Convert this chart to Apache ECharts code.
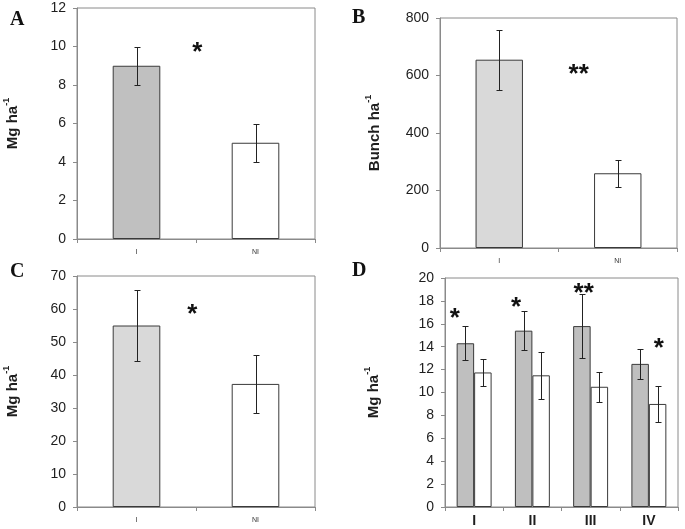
<!DOCTYPE html>
<html><head><meta charset="utf-8">
<script src="https://cdn.jsdelivr.net/npm/echarts@6/dist/echarts.min.js"></script>
<style>html,body{margin:0;padding:0;background:#fff}#c{width:685px;height:529px}</style>
</head><body><div id="c"></div>
<script>
// ---------- data ----------
const catsABC = ['I', 'NI'];
const aValues = [9, 5];
const aErrors = [1, 1];
const bValues = [655, 260];
const bErrors = [105, 47];
const cValues = [55, 37.3];
const cErrors = [10.8, 8.7];
const dCats = ['I', 'II', 'III', 'IV'];
const dIrrigated = [14.3, 15.4, 15.8, 12.5];
const dIrrigatedErr = [1.5, 1.7, 2.8, 1.3];
const dNonIrrigated = [11.75, 11.5, 10.5, 9.0];
const dNonIrrigatedErr = [1.2, 2.05, 1.3, 1.55];
// significance marks: label, category index, value level
const sigA = [['*', 0, 10]];
const sigB = [['**', 0, 623]];
const sigC = [['*', 0, 60]];
const sigD = [['*', 0, 17.0], ['*', 1, 17.9], ['**', 2, 19.1], ['*', 3, 14.3]];
// horizontal shift of marks, as a fraction of the category band (layout)
const sigShiftA = [0.51];
const sigShiftB = [0.67];
const sigShiftC = [0.47];
const sigShiftD = [-0.33, -0.28, -0.12, 0.17];

// ---------- styles ----------
const AX = '#8a8a8a';
const TXT = '#1e1e1e';
const FONT = 'Liberation Sans, Arial, sans-serif';

function grid(left, top, width, height) {
  return {left, top, width, height, show: true, borderColor: AX, borderWidth: 1, backgroundColor: 'transparent'};
}
function xAxis(gi, cats, style) {
  return {
    type: 'category', gridIndex: gi, data: cats,
    axisLine: {lineStyle: {color: AX, width: 1}},
    axisTick: {show: true, length: 4, lineStyle: {color: AX}},
    axisLabel: Object.assign({color: '#333', fontFamily: FONT}, style)
  };
}
function yAxis(gi, max, interval, nameMain, nameGap) {
  return {
    type: 'value', gridIndex: gi, min: 0, max, interval,
    name: '{a|' + nameMain + '}{s|-1}', nameLocation: 'middle', nameRotate: 90, nameGap,
    nameTextStyle: {
      rich: {
        a: {fontSize: 15, fontWeight: 'bold', fontFamily: FONT, color: TXT, lineHeight: 18, verticalAlign: 'bottom'},
        s: {fontSize: 9, fontWeight: 'bold', fontFamily: FONT, color: TXT, lineHeight: 18, verticalAlign: 'top', padding: [0, 0, 0, 0]}
      }
    },
    splitLine: {show: false},
    axisLine: {show: true, lineStyle: {color: AX, width: 1}},
    axisTick: {show: true, length: 4, lineStyle: {color: AX}},
    axisLabel: {color: TXT, fontSize: 14, fontFamily: FONT, margin: 11}
  };
}
function barSeries(gi, values, color, extra) {
  return Object.assign({
    type: 'bar', xAxisIndex: gi, yAxisIndex: gi, data: values,
    itemStyle: {color, borderColor: '#3a3a3a', borderWidth: 1},
    barGap: '0%', barCategoryGap: '60%', animation: false
  }, extra || {});
}
function errSeries(gi, values, errs, shift) {
  return {
    type: 'custom', xAxisIndex: gi, yAxisIndex: gi, z: 10, animation: false, silent: true,
    data: values.map((v, i) => [i, v - errs[i], v + errs[i]]),
    renderItem(params, api) {
      const lo = api.coord([api.value(0), api.value(1)]);
      const hi = api.coord([api.value(0), api.value(2)]);
      const band = api.size([1, 0])[0];
      const x = Math.round(lo[0] + shift * band) + 0.5;
      const y1 = Math.round(lo[1]) + 0.5, y2 = Math.round(hi[1]) + 0.5;
      const st = {stroke: '#222', lineWidth: 1};
      return {type: 'group', children: [
        {type: 'line', shape: {x1: x, y1: y1, x2: x, y2: y2}, style: st},
        {type: 'line', shape: {x1: x - 3, y1: y1, x2: x + 3, y2: y1}, style: st},
        {type: 'line', shape: {x1: x - 3, y1: y2, x2: x + 3, y2: y2}, style: st}
      ]};
    }
  };
}
function sigSeries(gi, marks, shifts) {
  return {
    type: 'custom', xAxisIndex: gi, yAxisIndex: gi, z: 11, animation: false, silent: true,
    data: marks.map((m, i) => [m[1], m[2], i]),
    renderItem(params, api) {
      const p = api.coord([api.value(0), api.value(1)]);
      const band = api.size([1, 0])[0];
      const i = api.value(2);
      return {type: 'text', style: {
        text: marks[i][0], x: p[0] + shifts[i] * band, y: p[1] + 6,
        align: 'center', verticalAlign: 'middle',
        font: 'bold 26px ' + FONT, fill: '#111', letterSpacing: 0
      }};
    }
  };
}
function letter(text, left, top) {
  return {type: 'text', left, top, style: {text, font: 'bold 20px "Liberation Serif", "Times New Roman", serif', fill: '#111'}};
}

const chart = echarts.init(document.getElementById('c'), null, {renderer: 'canvas'});
const smallX = {fontSize: 7, margin: 10};
const bigX = {fontSize: 14, fontWeight: 'bold', color: TXT, margin: 7};
chart.setOption({
  animation: false,
  backgroundColor: '#fff',
  grid: [grid(77, 8, 238, 231), grid(440, 18, 237, 230), grid(77, 276, 238, 231), grid(445, 278, 233, 229)],
  xAxis: [xAxis(0, catsABC, smallX), xAxis(1, catsABC, smallX), xAxis(2, catsABC, smallX), xAxis(3, dCats, bigX)],
  yAxis: [yAxis(0, 12, 2, 'Mg ha', 57), yAxis(1, 800, 200, 'Bunch ha', 58), yAxis(2, 70, 10, 'Mg ha', 57), yAxis(3, 20, 2, 'Mg ha', 64)],
  series: [
    barSeries(0, aValues.map((v, i) => ({value: v, itemStyle: {color: i === 0 ? '#c0c0c0' : '#ffffff'}})), '#c0c0c0'),
    barSeries(1, bValues.map((v, i) => ({value: v, itemStyle: {color: i === 0 ? '#d9d9d9' : '#ffffff'}})), '#d9d9d9'),
    barSeries(2, cValues.map((v, i) => ({value: v, itemStyle: {color: i === 0 ? '#d9d9d9' : '#ffffff'}})), '#d9d9d9'),
    barSeries(3, dIrrigated, '#bfbfbf', {barCategoryGap: '40%'}),
    barSeries(3, dNonIrrigated, '#ffffff', {barCategoryGap: '40%'}),
    errSeries(0, aValues, aErrors, 0),
    errSeries(1, bValues, bErrors, 0),
    errSeries(2, cValues, cErrors, 0),
    errSeries(3, dIrrigated, dIrrigatedErr, -0.15),
    errSeries(3, dNonIrrigated, dNonIrrigatedErr, 0.15),
    sigSeries(0, sigA, sigShiftA),
    sigSeries(1, sigB, sigShiftB),
    sigSeries(2, sigC, sigShiftC),
    sigSeries(3, sigD, sigShiftD)
  ],
  graphic: [letter('A', 10, 10), letter('B', 352, 8), letter('C', 10, 262), letter('D', 352, 261)]
});
</script>
</body></html>
